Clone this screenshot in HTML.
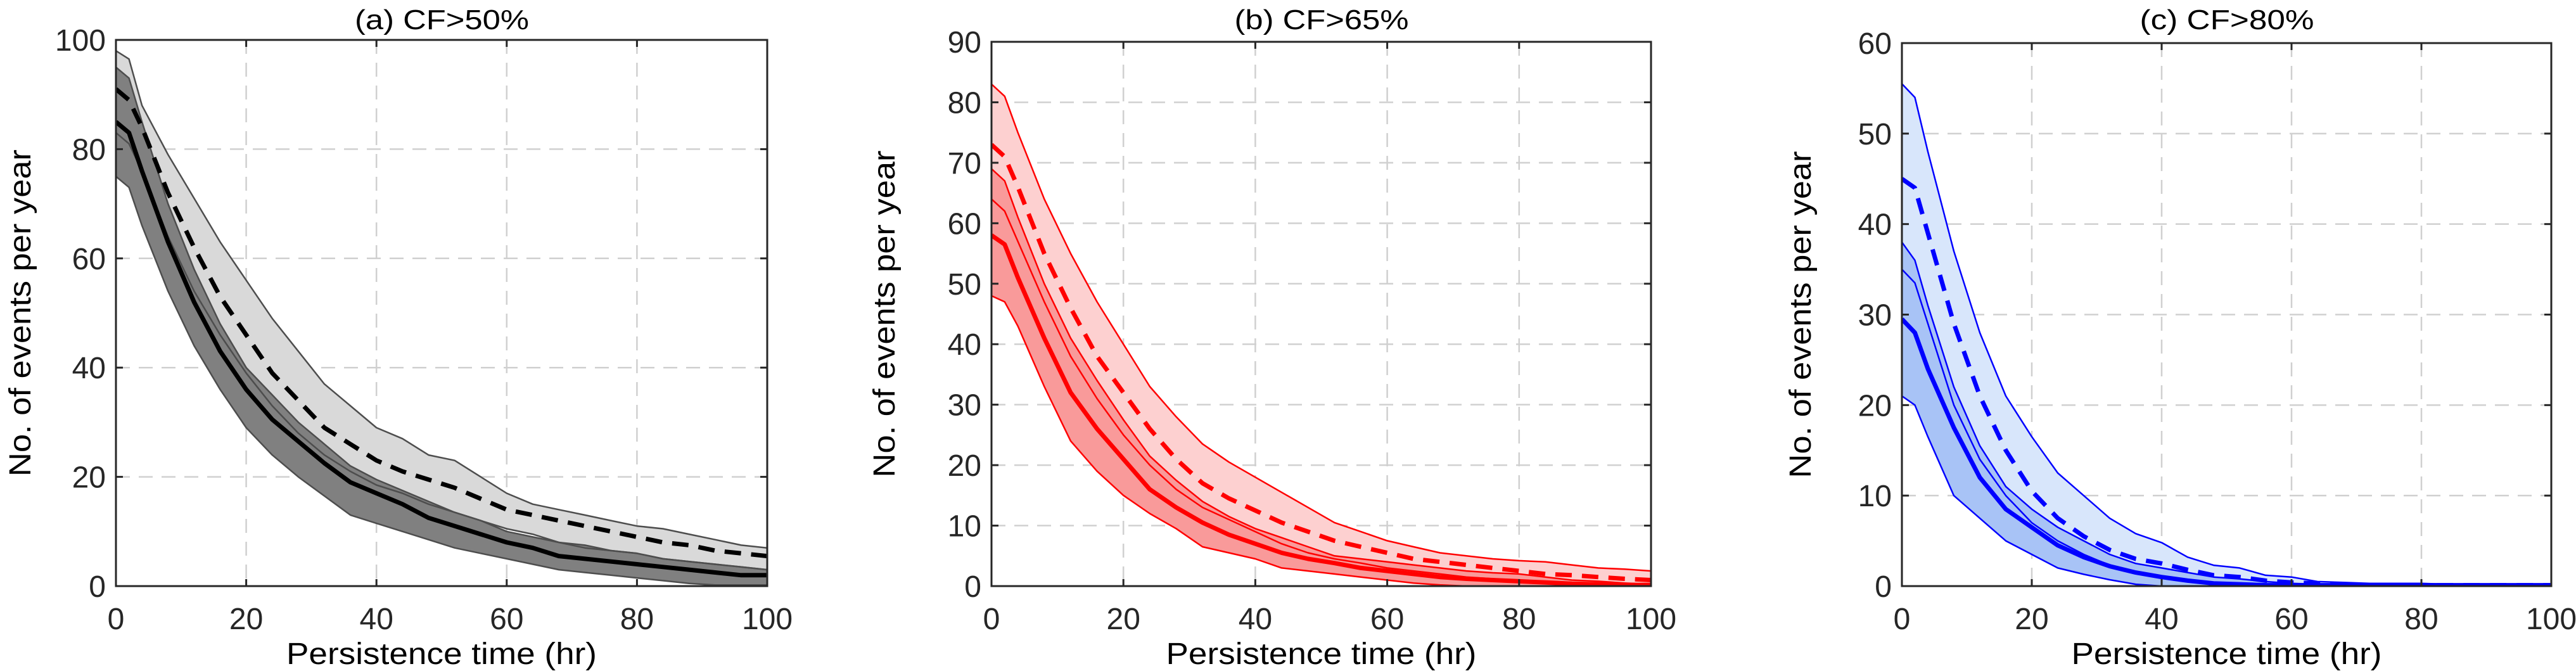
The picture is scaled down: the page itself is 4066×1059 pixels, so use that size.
<!DOCTYPE html>
<html><head><meta charset="utf-8"><style>
html,body{margin:0;padding:0;background:#fff;}
svg{display:block;font-family:"Liberation Sans","DejaVu Sans",sans-serif;}
</style></head><body>
<svg id="fig" width="4066" height="1059" viewBox="0 0 4066 1059" xmlns="http://www.w3.org/2000/svg"></svg>
<script>
const xs = [0,2,4,8,12,16,20,24,28,32,36,40,44,48,52,56,60,64,68,72,76,80,84,88,92,96,100];
const xTicks = [0,20,40,60,80,100];

// Panel a
const aLightUp = [98,96.5,88,79,71,63,56,49,43,37,33,29,27,24,23,20,17,15,14,13,12,11,10.5,9.5,8.5,7.5,7];
const aDash    = [91,89,84,72,62,53,46,39,34,29,26,23,21,19.5,18,16,14,13,12,11,10,9,8,7.5,6.5,6,5.5];
const aLightLo = [83,81,76,64,54,46,39,33,28,24,21,18.5,17,15,13.5,12,10.5,9.5,8,7,6.5,6,5,4.5,4,3.5,3];
const aDarkUp  = [95,93,85,70,58,48,40,35,30,26,22,19.5,17.5,15.5,13.5,12,10,9,8,7.5,6.5,6,5,4.5,4,3.5,3];
const aSolid   = [85,83,76,63,52,43,36,30.5,26.5,22.5,19,17,15,12.5,11,9.5,8,7,5.5,5,4.5,4,3.5,3,2.5,2,2];
const aDarkLo  = [75,73,66,54,44,36,29,24,20,16.5,13,11.5,10,8.5,7,6,5,4,3,2.5,2,1.5,1,0.5,0.2,0.2,0.2];
const aYTicks = [0,20,40,60,80,100];

// Panel b
const bLightUp = [83,81,75,64,55,47,40,33,28,23.5,20.5,18,15.5,13,10.5,9,7.5,6.5,5.5,5,4.5,4.2,4,3.5,3,2.8,2.5];
const bDash    = [73,71,66,55,46,38,32,26,21,17,14.5,12.5,10.5,9,7.5,6.5,5.5,4.5,4,3.5,3,2.5,2,1.8,1.5,1.2,1];
const bDarkUp  = [69,67,61,50,41,34,27.5,21.5,17.5,14,11.5,9.5,8,6.5,5,4.5,4,3.5,3,2.5,2.2,2,1.5,1,0.8,0.5,0.3];
const bLightLo = [64,62,57,47,38,31,25,20,16,13,11,9,7,5.5,4.5,3.8,3,2.5,2,1.5,1.2,1,0.8,0.6,0.4,0.3,0.2];
const bSolid   = [58,56.5,51,41,32,26,21,16,13,10.5,8.5,7,5.5,4.5,3.8,3,2.5,2,1.5,1.2,1,0.8,0.6,0.4,0.3,0.2,0.2];
const bDarkLo  = [48,47,43,33,24,19,15,12,9.5,6.5,5.5,4.5,3,2.5,2,1.5,1,0.5,0.2,0,0,0,0,0,0,0,0];
const bYTicks = [0,10,20,30,40,50,60,70,80,90];

// Panel c
const cLightUp = [55.5,54,48,37,28,21,16.5,12.5,10,7.5,5.8,4.8,3.2,2.3,2,1.2,1,0.5,0.4,0.3,0.3,0.3,0.2,0.2,0.2,0.1,0.1];
const cDash    = [45,44,39,29,21,15,10.5,7.5,5.5,4,3,2.5,1.8,1.2,1,0.6,0.4,0.3,0.2,0.1,0.1,0.1,0.1,0.1,0.1,0.1,0.1];
const cDarkUp  = [38,36,31,22,15.5,11,8.5,6.5,5,3.5,2.5,2,1.5,1,0.8,0.5,0.3,0.2,0.1,0.1,0.1,0.1,0.1,0.1,0.1,0.1,0.1];
const cLightLo = [35,33.5,29,20,14,10,7,5,3.5,2.3,1.5,1,0.5,0.2,0,0,0,0,0,0,0,0,0,0,0,0,0];
const cSolid   = [29.5,28,24,17.5,12,8.5,6.5,4.5,3.2,2.2,1.5,1,0.6,0.3,0.2,0.1,0.1,0.1,0.1,0.1,0.1,0.1,0.1,0.1,0.1,0.1,0.1];
const cDarkLo  = [21,20,16.5,10,7.5,5,3.5,2,1.3,0.7,0.2,0,0,0,0,0,0,0,0,0,0,0,0,0,0,0,0];
const cYTicks = [0,10,20,30,40,50,60];

const NS = "http://www.w3.org/2000/svg";
const svg = document.getElementById('fig');
function mk(tag, attrs, parent){
  const e = document.createElementNS(NS, tag);
  for (const k in attrs) e.setAttribute(k, attrs[k]);
  (parent||svg).appendChild(e);
  return e;
}

function panel(p){
  const g = mk('g', {});
  
  
  const sx = v => p.x0 + (v/100)*(p.x1-p.x0);
  const sy = v => p.y1 - (v/p.ymax)*(p.y1-p.y0);
  const clipId = p.id+'-clip';
  const cp = mk('clipPath', {id: clipId}, g);
  mk('rect', {x:p.x0, y:p.y0, width:p.x1-p.x0, height:p.y1-p.y0}, cp);
  const grid = mk('g', {stroke:'#d0d0d0','stroke-width':2.5,'stroke-dasharray':'22,14'}, g);
  
  
  xTicks.forEach(t => { if (t>0 && t<100) mk('line', {x1:sx(t),x2:sx(t),y1:p.y0,y2:p.y1}, grid); });
  p.yt.forEach(t => { if (t>0 && t<p.ymax) mk('line', {x1:p.x0,x2:p.x1,y1:sy(t),y2:sy(t)}, grid); });
  const plot = mk('g', {'clip-path':'url(#'+clipId+')'}, g);
  const pts = arr => arr.map((v,i)=>sx(xs[i]).toFixed(1)+','+sy(v).toFixed(1));
  function band(up, lo, fill, name){
    const d = 'M'+pts(up).join('L')+'L'+pts(lo).reverse().join('L')+'Z';
    const e = mk('path', {d:d, fill:fill, stroke:'none'}, plot);
    
    
  }
  function line(arr, w, color, dash, name){
    const e = mk('polyline', {points:pts(arr).join(' '), fill:'none', stroke:color, 'stroke-width':w, 'stroke-linejoin':'round'}, plot);
    if (dash) e.setAttribute('stroke-dasharray', dash);
    
    
  }
  band(p.d.lu, p.d.ll, p.light, 'light-band');
  band(p.d.du, p.d.dl, p.dark, 'dark-band');
  [['lu','light-band-upper-edge'],['ll','light-band-lower-edge'],['du','dark-band-upper-edge'],['dl','dark-band-lower-edge']].forEach(k=>line(p.d[k[0]], 2.5, p.edge, null, k[1]));
  line(p.d.dash, 7, p.main, '26,16', 'dashed-mean-line');
  line(p.d.solid, 7, p.main, null, 'solid-mean-line');
  const ax = mk('rect', {x:p.x0, y:p.y0, width:p.x1-p.x0, height:p.y1-p.y0, fill:'none', stroke:'#262626','stroke-width':3}, g);
  
  
  const tk = mk('g', {stroke:'#262626','stroke-width':3}, g);
  xTicks.forEach(t => {
    mk('line', {x1:sx(t),x2:sx(t),y1:p.y1,y2:p.y1-11}, tk);
    mk('line', {x1:sx(t),x2:sx(t),y1:p.y0,y2:p.y0+11}, tk);
    const tx = mk('text', {x:sx(t), y:p.y1+68, 'text-anchor':'middle','font-size':48, fill:'#262626'}, g);
    tx.textContent = t;
    
    
  });
  p.yt.forEach(t => {
    mk('line', {x1:p.x0,x2:p.x0+11,y1:sy(t),y2:sy(t)}, tk);
    mk('line', {x1:p.x1,x2:p.x1-11,y1:sy(t),y2:sy(t)}, tk);
    const tx = mk('text', {x:p.x0-16, y:sy(t)+17, 'text-anchor':'end','font-size':48, fill:'#262626'}, g);
    tx.textContent = t;
    
    
  });
  const xl = mk('text', {x:(p.x0+p.x1)/2 - 245, y:1048, 'font-size':48, fill:'#000', textLength:490, lengthAdjust:'spacingAndGlyphs'}, g);
  xl.textContent = 'Persistence time (hr)';
  
  
  const yl = mk('text', {x:-258, y:0, 'font-size':48, fill:'#000', textLength:516, lengthAdjust:'spacingAndGlyphs', transform:'translate('+(p.ylx)+','+((p.y0+p.y1)/2)+') rotate(-90)'}, g);
  yl.textContent = 'No. of events per year';
  
  
  const ti = mk('text', {x:(p.x0+p.x1)/2 - 137, y:46, 'font-size':44, fill:'#000', textLength:275, lengthAdjust:'spacingAndGlyphs'}, g);
  ti.textContent = p.title;
  
  
}

panel({id:'panel-a', title:'(a) CF>50%', x0:183, x1:1211, y0:63, y1:925, ymax:100, yt:aYTicks, ylx:48,
  light:'#d9d9d9', dark:'#808080', edge:'#4d4d4d', main:'#000',
  d:{lu:aLightUp, ll:aLightLo, du:aDarkUp, dl:aDarkLo, dash:aDash, solid:aSolid}});
panel({id:'panel-b', title:'(b) CF>65%', x0:1565, x1:2606, y0:66, y1:925, ymax:90, yt:bYTicks, ylx:1412,
  light:'#fdd0d0', dark:'#f99a9a', edge:'#ff0000', main:'#ff0000',
  d:{lu:bLightUp, ll:bLightLo, du:bDarkUp, dl:bDarkLo, dash:bDash, solid:bSolid}});
panel({id:'panel-c', title:'(c) CF>80%', x0:3002, x1:4027, y0:68, y1:925, ymax:60, yt:cYTicks, ylx:2858,
  light:'#d8e6fb', dark:'#a8c3f6', edge:'#0000ff', main:'#0000ff',
  d:{lu:cLightUp, ll:cLightLo, du:cDarkUp, dl:cDarkLo, dash:cDash, solid:cSolid}});
</script>
</body></html>
